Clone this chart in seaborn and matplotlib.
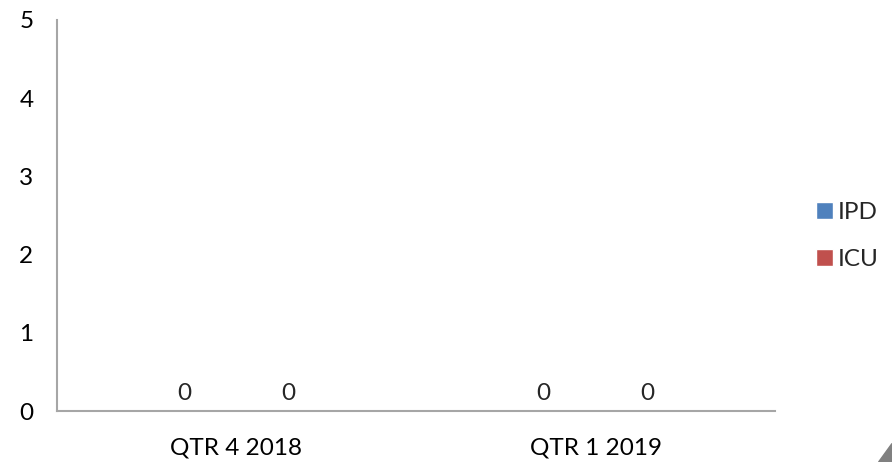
import pandas as pd
import seaborn as sns
import matplotlib.pyplot as plt
from matplotlib.patches import Polygon

quarters = ["QTR 4 2018", "QTR 1 2019"]
ipd = [0, 0]
icu = [0, 0]
series = ["IPD", "ICU"]
colors = ["#4F81BD", "#C0504D"]

sns.set_style("white")
plt.rcParams["font.family"] = ["Lato", "DejaVu Sans"]

FS = 17.5


def main():
    df = pd.DataFrame({
        "quarter": quarters * 2,
        "value": ipd + icu,
        "series": [series[0]] * len(quarters) + [series[1]] * len(quarters),
    })

    fig = plt.figure(figsize=(8.92, 4.62), dpi=100)
    ax = fig.add_axes([57 / 892, 51 / 462, 718 / 892, 391 / 462])
    sns.barplot(data=df, x="quarter", y="value", hue="series", palette=colors,
                saturation=1, width=0.58, ax=ax, legend=True)

    ax.set_ylim(0, 5)
    ax.set_yticks(range(6))
    ax.set_xlabel("")
    ax.set_ylabel("")
    for side in ["top", "right"]:
        ax.spines[side].set_visible(False)
    for side in ["left", "bottom"]:
        ax.spines[side].set_color("#A6A6A6")
        ax.spines[side].set_linewidth(1.5)
    ax.tick_params(axis="both", length=0, labelsize=FS, colors="black")
    ax.tick_params(axis="y", pad=17)
    ax.tick_params(axis="x", pad=19)

    for cont in ax.containers:
        ax.bar_label(cont, labels=[f"{v:g}" for v in cont.datavalues],
                     padding=5, fontsize=FS)

    ax.legend(loc="center left", bbox_to_anchor=(804 / 892, 226 / 462),
              bbox_transform=fig.transFigure, frameon=False, fontsize=FS,
              handlelength=0.7, handleheight=0.7, handletextpad=0.2,
              labelspacing=1.05, borderpad=0)

    # small resize-handle mark in the corner
    fig.patches.append(Polygon([[1.0, 0.0], [0.985, 0.0], [1.0, 0.04]], closed=True,
                               transform=fig.transFigure, color="#808080"))

    fig.savefig("out.png", dpi=100)
    plt.close(fig)


if __name__ == "__main__":
    main()
